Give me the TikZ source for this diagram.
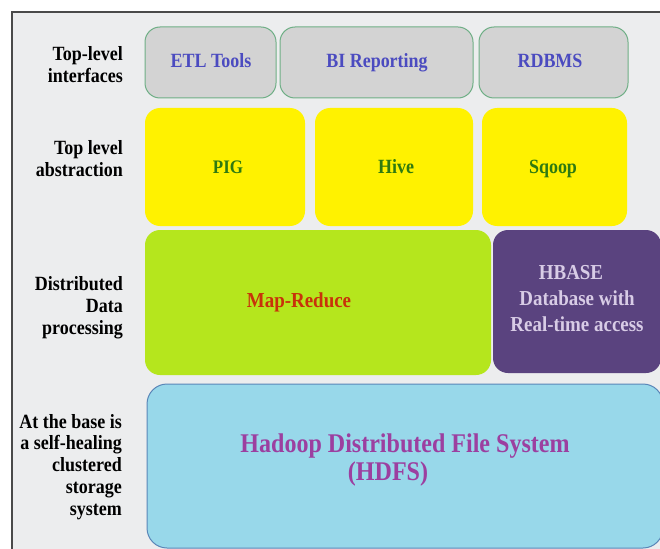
\documentclass[tikz,border=0pt]{standalone}
\usepackage{fontspec}
\setmainfont{Liberation Serif}[FakeStretch=0.89]
\definecolor{bgc}{HTML}{ECEDEE}
\definecolor{framec}{HTML}{4A4A4A}
\definecolor{grayfill}{HTML}{D3D3D3}
\definecolor{grayedge}{HTML}{6FAF86}
\definecolor{bluetext}{HTML}{4B4BC0}
\definecolor{yel}{HTML}{FFF200}
\definecolor{greentext}{HTML}{2F7A10}
\definecolor{lime}{HTML}{B5E61D}
\definecolor{redtext}{HTML}{C8320A}
\definecolor{hbfill}{HTML}{5A437F}
\definecolor{hbtext}{HTML}{D8CCE6}
\definecolor{hdfill}{HTML}{98D8EA}
\definecolor{hdedge}{HTML}{5A86B8}
\definecolor{hdtext}{HTML}{9C3FA0}
\begin{document}
\begin{tikzpicture}[x=1pt,y=-1pt,
  box/.style={rounded corners=15pt},
  graybox/.style={box, fill=grayfill, draw=grayedge, line width=1pt},
  lbl/.style={font=\fontsize{20.2}{22}\selectfont\bfseries, inner sep=0pt, align=right, anchor=base east},
  btxt/.style={font=\fontsize{20.2}{26}\selectfont\bfseries, inner sep=0pt, align=center, anchor=base}]
\useasboundingbox (0,0) rectangle (660,548);
\fill[white] (0,0) rectangle (660,548);
\draw[framec, line width=1.4pt, fill=bgc] (12,12) rectangle (690,580);
% top-level interfaces
\draw[graybox] (145,27) rectangle (276,98);
\draw[graybox] (280,27) rectangle (473,98);
\draw[graybox] (479,27) rectangle (628,98);
\node[btxt, text=bluetext] (etl) at (211,68) {ETL Tools};
\node[btxt, text=bluetext] (bi) at (377,68) {BI Reporting};
\node[btxt, text=bluetext] (rdb) at (550,68) {RDBMS};
% abstraction
\fill[box, yel] (145,108) rectangle (305,226);
\fill[box, yel] (315,108) rectangle (473,226);
\fill[box, yel] (482,108) rectangle (627,226);
\node[btxt, text=greentext, font=\fontsize{19.1}{26}\selectfont\bfseries] (pig) at (228,173) {PIG};
\node[btxt, text=greentext] (hive) at (396,173) {Hive};
\node[btxt, text=greentext] (sqoop) at (553,173) {Sqoop};
% processing
\fill[box, lime] (145,230) rectangle (491,375);
\node[btxt, text=redtext, font=\fontsize{21.3}{26}\selectfont\bfseries] (mr) at (299,307) {Map-Reduce};
\fill[box, hbfill] (493,230) rectangle (661,373);
\node[btxt, text=hbtext, font=\fontsize{21.3}{26}\selectfont\bfseries] (hb) at (577,331) {HBASE\hspace*{12pt}\\Database with\\Real-time access};
% HDFS
\draw[box, rounded corners=20pt, fill=hdfill, draw=hdedge, line width=1pt] (147,384) rectangle (663,548);
\node[btxt, text=hdtext, font=\fontsize{27}{28}\selectfont\bfseries] (hdfs) at (405,480) {Hadoop Distributed File System\\(HDFS)\hspace*{34pt}};
% labels
\node[lbl] (l1) at (123,83) {Top-level\\interfaces};
\node[lbl] (l2) at (123,176) {Top level\\abstraction};
\node[lbl] (l3) at (123,334) {Distributed\\Data\\processing};
\node[lbl, font=\fontsize{20.2}{21.7}\selectfont\bfseries] (l4) at (122,515) {At the base is\\a self-healing\\clustered\\storage\\system};
\end{tikzpicture}
\end{document}
